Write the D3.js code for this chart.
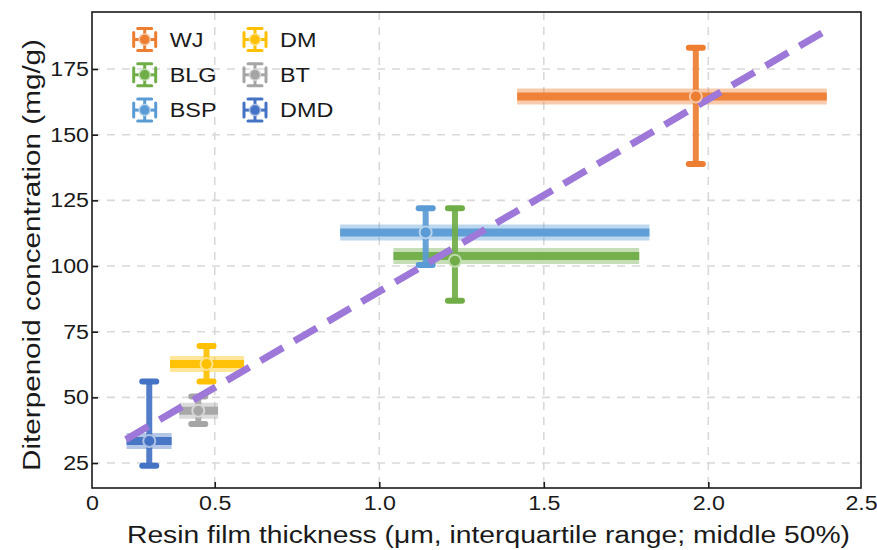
<!DOCTYPE html>
<html>
<head>
<meta charset="utf-8">
<script src="https://cdn.jsdelivr.net/npm/d3@7/dist/d3.min.js"></script>
<style>
  html, body { margin: 0; padding: 0; background: #fff; }
  svg { display: block; font-family: "Liberation Sans", Arial, Helvetica, sans-serif; }
</style>
</head>
<body>
<svg id="chart" width="877" height="550"></svg>
<script>
// ---------- data ----------
const groups = ["WJ", "BLG", "BSP", "DM", "BT", "DMD"];
const colors = ["#ED7D31", "#70AD47", "#5B9BD5", "#FFC000", "#A5A5A5", "#4472C4"];
// resin film thickness: median point and interquartile range
const xMid  = [1.962, 1.230, 1.141, 0.475, 0.450, 0.301];
const xLow  = [1.419, 1.043, 0.881, 0.364, 0.392, 0.232];
const xHigh = [2.360, 1.790, 1.821, 0.589, 0.510, 0.369];
// diterpenoid concentration: mean and error range
const yMean = [164.5, 102.0, 112.8, 62.7, 44.9, 33.4];
const yLow  = [138.8, 86.8, 100.4, 56.0, 39.9, 24.0];
const yHigh = [183.1, 122.0, 122.0, 69.6, 50.3, 56.0];
// vertical level at which each interquartile bar is drawn
const yBand = [164.5, 103.8, 112.8, 62.7, 44.9, 33.4];
// trend line end points
const fitX = [0.230, 2.365];
const fitY = [34.0, 190.2];
// ticks
const xTickInner = [0.5, 1.0, 1.5, 2.0];
const xTickLabels = ["0", "0.5", "1.0", "1.5", "2.0", "2.5"];
const yTicks = [25, 50, 75, 100, 125, 150, 175];
const xTitle = "Resin film thickness (μm, interquartile range; middle 50%)";
const yTitle = "Diterpenoid concentration (mg/g)";

// ---------- layout ----------
const L = 92, R = 861, T = 12, B = 488;
const svg = d3.select("#chart");
const x = d3.scaleLinear().domain([0.127, 2.464]).range([L, R]);
const y = d3.scaleLinear().domain([15.5, 196.7]).range([B, T]);
const STRETCH = 1.16;
function stretch(sel, k) {
  sel.each(function () {
    const len = this.getComputedTextLength();
    d3.select(this).attr("textLength", len * k).attr("lengthAdjust", "spacingAndGlyphs");
  });
}

// grid
const grid = svg.append("g");
grid.selectAll("line.v").data(xTickInner).join("line")
  .attr("x1", d => x(d)).attr("x2", d => x(d)).attr("y1", T).attr("y2", B)
  .attr("stroke", "#d9d9d9").attr("stroke-width", 1.6).attr("stroke-dasharray", "8,7");
grid.selectAll("line.h").data(yTicks).join("line")
  .attr("x1", L).attr("x2", R).attr("y1", d => y(d)).attr("y2", d => y(d))
  .attr("stroke", "#d9d9d9").attr("stroke-width", 1.6).attr("stroke-dasharray", "8,7");

// data rows
const rows = groups.map((g, i) => ({
  g, c: colors[i], xm: xMid[i], xl: xLow[i], xh: xHigh[i],
  ym: yMean[i], yl: yLow[i], yh: yHigh[i], yb: yBand[i]
}));

// interquartile bars
const bands = svg.append("g");
bands.selectAll("line.light").data(rows).join("line")
  .attr("x1", d => x(d.xl)).attr("x2", d => x(d.xh))
  .attr("y1", d => y(d.yb)).attr("y2", d => y(d.yb))
  .attr("stroke", d => d.c).attr("stroke-opacity", 0.4).attr("stroke-width", 16);
bands.selectAll("line.dark").data(rows).join("line")
  .attr("x1", d => x(d.xl)).attr("x2", d => x(d.xh))
  .attr("y1", d => y(d.yb)).attr("y2", d => y(d.yb))
  .attr("stroke", d => d.c).attr("stroke-opacity", 0.95).attr("stroke-width", 8);

// vertical error bars
const ebar = svg.append("g");
ebar.selectAll("line.stem").data(rows).join("line")
  .attr("x1", d => x(d.xm)).attr("x2", d => x(d.xm))
  .attr("y1", d => y(d.yl)).attr("y2", d => y(d.yh))
  .attr("stroke", d => d.c).attr("stroke-opacity", 0.92).attr("stroke-width", 6);
["yl", "yh"].forEach(k => {
  ebar.selectAll("line.cap" + k).data(rows).join("line")
    .attr("x1", d => x(d.xm) - 7).attr("x2", d => x(d.xm) + 7)
    .attr("y1", d => y(d[k])).attr("y2", d => y(d[k]))
    .attr("stroke", d => d.c).attr("stroke-width", 6).attr("stroke-linecap", "round");
});

// trend line
svg.append("path")
  .datum(fitX.map((v, i) => [v, fitY[i]]))
  .attr("d", d3.line().x(d => x(d[0])).y(d => y(d[1])))
  .attr("fill", "none").attr("stroke", "#9d78d8").attr("stroke-width", 7)
  .attr("stroke-dasharray", "26,13");

// points
svg.append("g").selectAll("circle").data(rows).join("circle")
  .attr("cx", d => x(d.xm)).attr("cy", d => y(d.ym)).attr("r", 6)
  .attr("fill", d => d.c)
  .attr("stroke", d => d3.interpolateRgb(d.c, "#ffffff")(0.55)).attr("stroke-width", 2);

// frame
svg.append("rect").attr("x", L).attr("y", T).attr("width", R - L).attr("height", B - T)
  .attr("fill", "none").attr("stroke", "#1a1a1a").attr("stroke-width", 1.6);

// axes
const xVals = [x.domain()[0], ...xTickInner, x.domain()[1]];
const xAxis = svg.append("g").attr("transform", `translate(0,${B})`)
  .call(d3.axisBottom(x).tickValues(xVals).tickFormat((d, i) => xTickLabels[i])
    .tickSizeInner(-6).tickSizeOuter(0).tickPadding(8));
const yAxis = svg.append("g").attr("transform", `translate(${L},0)`)
  .call(d3.axisLeft(y).tickValues(yTicks).tickFormat(d3.format("d"))
    .tickSizeInner(-6).tickSizeOuter(0).tickPadding(3));
[xAxis, yAxis].forEach(a => {
  a.select(".domain").remove();
  a.selectAll(".tick line").attr("stroke", "#1a1a1a").attr("stroke-width", 1.6);
  a.selectAll(".tick text").attr("font-size", 20).attr("fill", "#1a1a1a")
    .attr("font-family", "'Liberation Sans', Arial, sans-serif");
});
xAxis.selectAll(".tick").filter((d, i) => i === 0 || i === xVals.length - 1).select("line").remove();
stretch(xAxis.selectAll(".tick text"), STRETCH);
stretch(yAxis.selectAll(".tick text"), STRETCH);

// axis titles
svg.append("text").attr("x", (127 + 850) / 2).attr("y", 543)
  .attr("text-anchor", "middle").attr("font-size", 23).attr("fill", "#1a1a1a")
  .attr("textLength", 723).attr("lengthAdjust", "spacingAndGlyphs")
  .text(xTitle);
svg.append("text").attr("transform", "translate(40,255) rotate(-90)")
  .attr("text-anchor", "middle").attr("font-size", 23).attr("fill", "#1a1a1a")
  .attr("textLength", 432).attr("lengthAdjust", "spacingAndGlyphs")
  .text(yTitle);

// legend
const legCols = [144.7, 255];
const legRows = [39.5, 74.8, 110.1];
const leg = svg.append("g");
rows.forEach((d, i) => {
  const cx = legCols[Math.floor(i / 3)], cy = legRows[i % 3];
  const g = leg.append("g").attr("transform", `translate(${cx},${cy})`);
  g.append("line").attr("x1", 0).attr("x2", 0).attr("y1", -11).attr("y2", 11)
    .attr("stroke", d.c).attr("stroke-width", 3);
  g.append("line").attr("x1", -11).attr("x2", 11).attr("y1", 0).attr("y2", 0)
    .attr("stroke", d.c).attr("stroke-width", 3);
  [-11, 11].forEach(o => {
    g.append("line").attr("x1", -7).attr("x2", 7).attr("y1", o).attr("y2", o)
      .attr("stroke", d.c).attr("stroke-width", 3).attr("stroke-linecap", "round");
    g.append("line").attr("x1", o).attr("x2", o).attr("y1", -7).attr("y2", 7)
      .attr("stroke", d.c).attr("stroke-width", 3).attr("stroke-linecap", "round");
  });
  g.append("circle").attr("r", 5.5).attr("fill", d.c)
    .attr("stroke", d3.interpolateRgb(d.c, "#ffffff")(0.55)).attr("stroke-width", 1.5);
  const t = leg.append("text").attr("x", cx + 25).attr("y", cy + 7)
    .attr("font-size", 20).attr("fill", "#1a1a1a").text(d.g);
  stretch(t, 1.17);
});
</script>
</body>
</html>
